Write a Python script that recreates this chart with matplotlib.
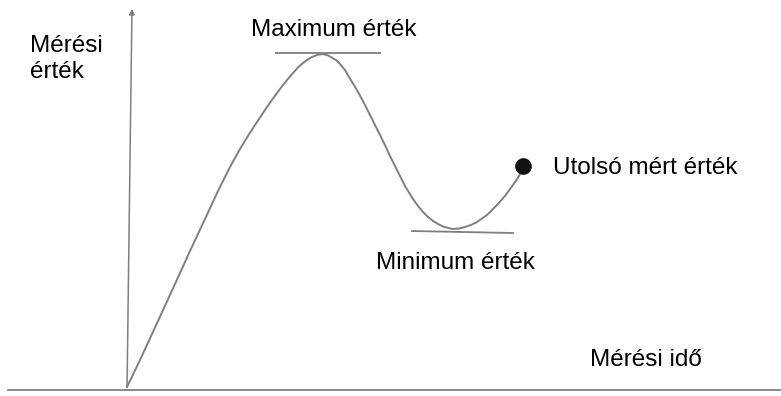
import matplotlib.pyplot as plt

plt.rcParams['font.family'] = ['Liberation Sans', 'DejaVu Sans']

# görbe pontjai (pixelben leolvasva)
curve_x = [127, 140, 158, 175, 190, 205, 218, 230, 240, 247, 255, 267, 273, 280, 287, 293, 298, 303,
           307, 312, 317, 322, 327, 331, 336, 340, 345, 349, 357, 365, 373, 383, 390, 397, 405, 413,
           418, 423, 428, 433, 438, 443, 448, 453, 459, 465, 471, 477, 487, 497, 505, 513, 519, 523]
curve_y = [387, 360, 321, 284, 251, 219, 191, 167, 149, 137.5, 125, 107, 98.5, 89, 80, 73, 67.5, 63,
           60, 57, 55, 54, 55, 57, 60, 64, 70, 77, 90, 105, 121, 141, 156, 170, 186, 199,
           206, 212, 217, 221, 224, 226.5, 228, 229, 228.5, 227, 225, 222, 215, 205, 196, 185, 176, 167]
last_x, last_y = 523, 166
max_line_x = [276, 380]
max_line_y = [53, 53]
min_line_x = [412, 513]
min_line_y = [231, 233]

fig = plt.figure(figsize=(7.81, 3.96), dpi=100)
ax = fig.add_axes([0, 0, 1, 1])
ax.set_xlim(0, 781)
ax.set_ylim(396, 0)
ax.axis('off')

c = '#7f7f7f'
# tengelyek
ax.plot([8, 781], [390, 390], color=c, lw=1.3)
ax.annotate('', xy=(132, 6), xytext=(127, 390),
            arrowprops=dict(arrowstyle='-|>', color=c, lw=1.1, mutation_scale=8))

ax.plot(curve_x, curve_y, color=c, lw=1.4, solid_capstyle='round', solid_joinstyle='round')
ax.plot(max_line_x, max_line_y, color=c, lw=1.3)
ax.plot(min_line_x, min_line_y, color=c, lw=1.3)
ax.plot([last_x], [last_y], 'o', color='#111111', ms=11)

fs = 17.5
ax.text(30, 46, 'Mérési', fontsize=fs, va='center')
ax.text(30, 72, 'érték', fontsize=fs, va='center')
ax.text(334, 30, 'Maximum érték', fontsize=fs, va='center', ha='center')
ax.text(553, 168, 'Utolsó mért érték', fontsize=fs, va='center')
ax.text(455, 263, 'Minimum érték', fontsize=fs, va='center', ha='center')
ax.text(646, 360, 'Mérési idő', fontsize=fs, va='center', ha='center')

plt.savefig('out.png', dpi=100)
